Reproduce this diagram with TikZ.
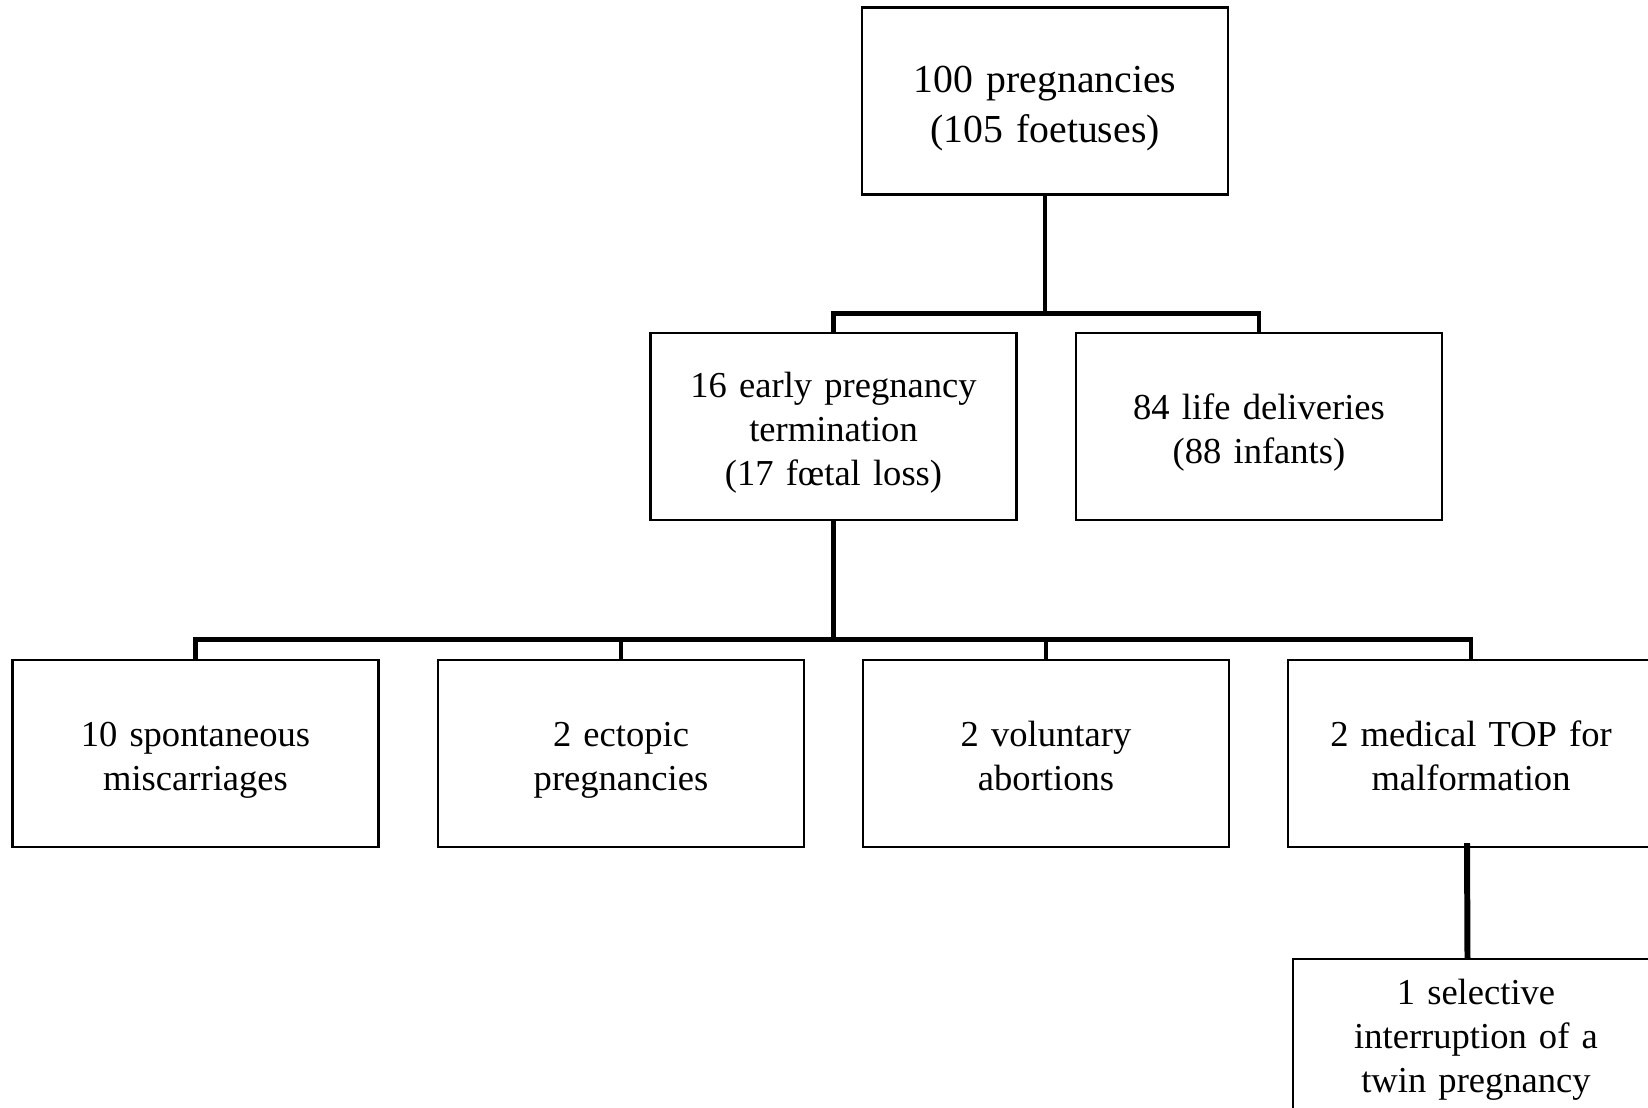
\documentclass[tikz,border=0pt]{standalone}
\usepackage{fontspec}
\setmainfont{Liberation Serif}
\usetikzlibrary{calc}
% struts with the ascent and descent of a Word line
\newcommand{\topstrut}{\rule[-0.216em]{0pt}{1.25em}}
\newcommand{\botstrut}{\rule[-0.216em]{0pt}{0.216em}}

\begin{document}
\begin{tikzpicture}[
  box/.style={draw, line width=0.6pt, minimum width=3.66cm, minimum height=1.87cm,
    text width=3.5cm, align=center, inner sep=0pt, font=\fontsize{10.4}{12.5}\selectfont,
    execute at begin node=\topstrut, execute at end node=\botstrut},
  conn/.style={line width=1.4pt}]
\useasboundingbox (0,0) rectangle (16.48,-11.07);
% Boxes of the tree
\node[box, font=\fontsize{11.3}{14.2}\selectfont] (preg) at (10.45,-1.01) {100 pregnancies\\(105 foetuses)};
\node[box] (early) at (8.335,-4.265) {16 early pregnancy\\termination\\(17 fœtal loss)};
\node[box] (life) at (12.59,-4.265) {84 life deliveries\\(88 infants)};
\node[box] (spont) at (1.955,-7.535) {10 spontaneous\\miscarriages};
\node[box] (ecto) at (6.21,-7.535) {2 ectopic\\pregnancies};
\node[box] (volu) at (10.46,-7.535) {2 voluntary\\abortions};
\node[box] (medtop) at (14.71,-7.535) {2 medical TOP for\\malformation};
\node[box, anchor=north, minimum height=1.6cm] (twin) at (14.76,-9.58) {1 selective\\interruption of a\\twin pregnancy\rule[-5.5pt]{0pt}{0pt}};
% Levels of the horizontal bars
\coordinate (bar1) at (0,-3.135);
\coordinate (bar2) at (0,-6.395);
% Connectors
\draw[conn] (preg.south) -- (preg.south |- bar1);
\draw[conn] (early.north) -- (early.north |- bar1) -- (life.north |- bar1) -- (life.north);
\draw[conn] (early.south) -- (early.south |- bar2);
\draw[conn] (spont.north) -- (spont.north |- bar2) -- (medtop.north |- bar2) -- (medtop.north);
\foreach \n in {ecto, volu}
  \draw[conn] (\n.north) -- (\n.north |- bar2);
\draw[line width=1.7pt] ($(medtop.south)+(-0.04,0.05)$) -- ($(twin.north)+(-0.085,0)$);
\end{tikzpicture}
\end{document}
